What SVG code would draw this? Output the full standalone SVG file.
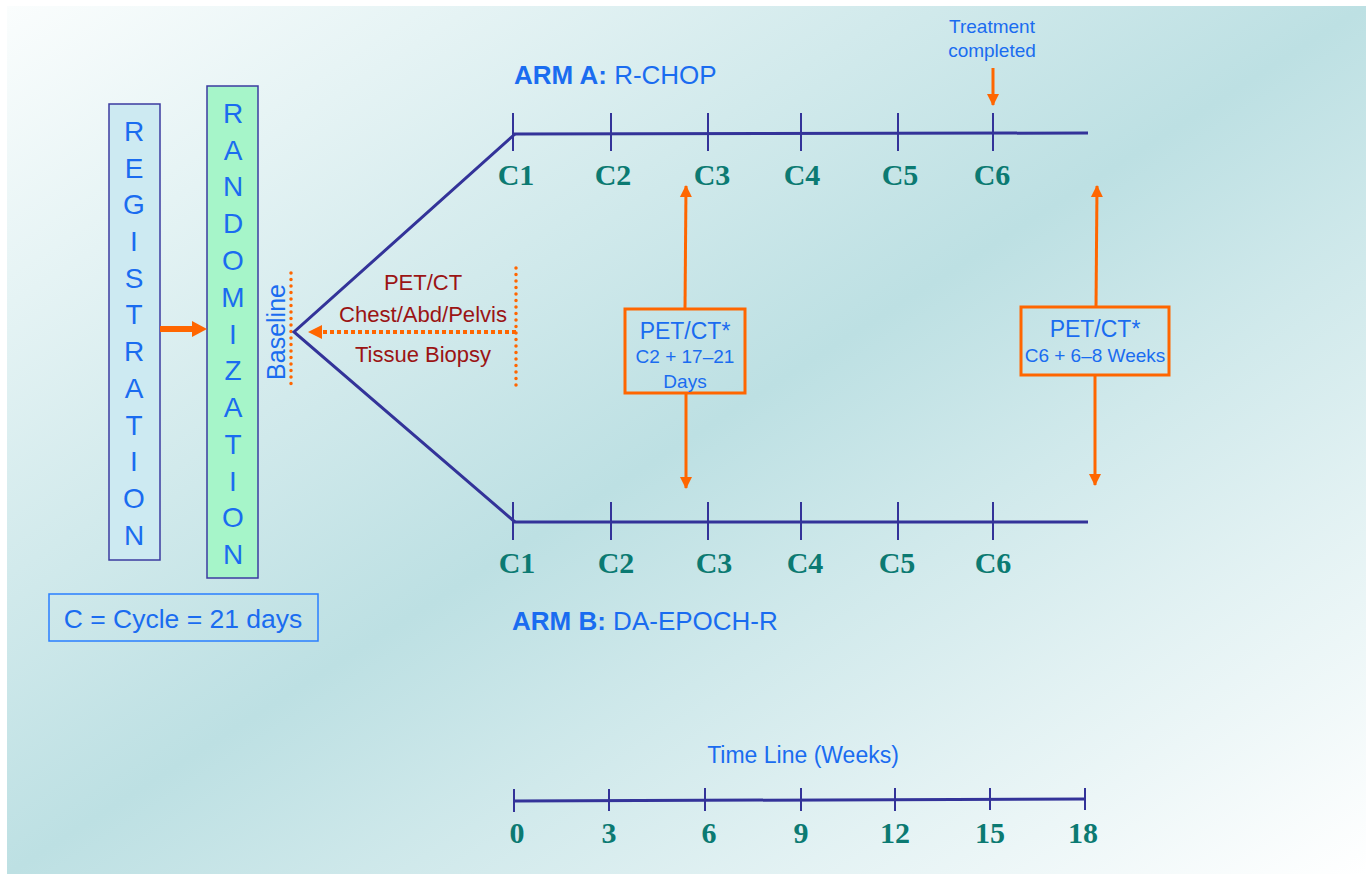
<svg xmlns="http://www.w3.org/2000/svg" width="1366" height="874" viewBox="0 0 1366 874">
<defs>
<linearGradient id="bg" x1="0" y1="0" x2="1" y2="1">
<stop offset="0" stop-color="#fafdfd"/>
<stop offset="0.5" stop-color="#bde0e3"/>
<stop offset="1" stop-color="#ffffff"/>
</linearGradient>
<marker id="oa" viewBox="0 0 12 12" refX="11" refY="6" markerWidth="12" markerHeight="13" markerUnits="userSpaceOnUse" orient="auto">
<path d="M0,0 L12,6 L0,12 Z" fill="#ff6600"/>
</marker>
<style>
.vl{font-family:"Liberation Sans",Arial,sans-serif;font-size:28px;fill:#1a6cf0;text-anchor:middle}
.bl{font-family:"Liberation Sans",Arial,sans-serif;fill:#1a6cf0}
.rd{font-family:"Liberation Sans",Arial,sans-serif;font-size:22px;fill:#9b1414;text-anchor:middle}
.cl{font-family:"Liberation Serif","Times New Roman",serif;font-weight:bold;font-size:30px;fill:#0b7a72;text-anchor:middle}
.ln{stroke:#333399;stroke-width:3;fill:none}
.tk{stroke:#333399;stroke-width:2;fill:none}
.oa{stroke:#ff6600;stroke-width:3;fill:none;marker-end:url(#oa)}
.dot{stroke:#ff6600;stroke-width:3.5;stroke-linecap:round;stroke-dasharray:0 6.5;fill:none}
.ob{fill:none;stroke:#ff6600;stroke-width:3}
</style>
</defs>
<rect x="0" y="0" width="1366" height="874" fill="#ffffff"/>
<rect x="7" y="6" width="1359" height="868" fill="url(#bg)"/>

<g id="registration">
<rect x="109" y="104" width="51" height="456" fill="#cdeaf2" stroke="#3b3ba0" stroke-width="1.5"/>
<text class="vl" x="134" y="141">R</text>
<text class="vl" x="134" y="178">E</text>
<text class="vl" x="134" y="214">G</text>
<text class="vl" x="134" y="251">I</text>
<text class="vl" x="134" y="288">S</text>
<text class="vl" x="134" y="324">T</text>
<text class="vl" x="134" y="361">R</text>
<text class="vl" x="134" y="398">A</text>
<text class="vl" x="134" y="435">T</text>
<text class="vl" x="134" y="471">I</text>
<text class="vl" x="134" y="508">O</text>
<text class="vl" x="134" y="545">N</text>
</g>

<g id="randomization">
<rect x="207" y="86" width="51" height="492" fill="#a6f5c9" stroke="#3b3ba0" stroke-width="1.5"/>
<text class="vl" x="233" y="123">R</text>
<text class="vl" x="233" y="160">A</text>
<text class="vl" x="233" y="196">N</text>
<text class="vl" x="233" y="233">D</text>
<text class="vl" x="233" y="270">O</text>
<text class="vl" x="233" y="307">M</text>
<text class="vl" x="233" y="344">I</text>
<text class="vl" x="233" y="380">Z</text>
<text class="vl" x="233" y="417">A</text>
<text class="vl" x="233" y="454">T</text>
<text class="vl" x="233" y="491">I</text>
<text class="vl" x="233" y="527">O</text>
<text class="vl" x="233" y="564">N</text>
</g>

<g id="cycle-legend">
<rect x="49" y="594" width="269" height="47" fill="none" stroke="#2a7fff" stroke-width="1.5"/>
<text class="bl" x="183" y="628" font-size="26.5" text-anchor="middle">C = Cycle = 21 days</text>
</g>

<g id="baseline">
<text class="bl" font-size="25" text-anchor="middle" transform="translate(285,332) rotate(-90)">Baseline</text>
<line class="dot" x1="291" y1="273" x2="291" y2="386"/>
</g>

<g id="baseline-tests">
<text class="rd" x="423" y="290">PET/CT</text>
<text class="rd" x="423" y="322" textLength="168" lengthAdjust="spacingAndGlyphs">Chest/Abd/Pelvis</text>
<text class="rd" x="423" y="362">Tissue Biopsy</text>
<line class="dot" x1="516" y1="268" x2="516" y2="390"/>
</g>

<g id="arm-a">
<text class="bl" x="514" y="84" font-size="26"><tspan font-weight="bold">ARM A:</tspan> R-CHOP</text>
<text class="cl" x="516" y="185">C1</text>
<text class="cl" x="613" y="185">C2</text>
<text class="cl" x="712" y="185">C3</text>
<text class="cl" x="802" y="185">C4</text>
<text class="cl" x="900" y="185">C5</text>
<text class="cl" x="992" y="185">C6</text>
</g>

<g id="arm-b">
<text class="bl" x="512" y="630" font-size="26"><tspan font-weight="bold">ARM B:</tspan> DA-EPOCH-R</text>
<text class="cl" x="517" y="573">C1</text>
<text class="cl" x="616" y="573">C2</text>
<text class="cl" x="714" y="573">C3</text>
<text class="cl" x="805" y="573">C4</text>
<text class="cl" x="897" y="573">C5</text>
<text class="cl" x="993" y="573">C6</text>
</g>

<g id="treatment-completed">
<text class="bl" x="992" y="33" font-size="19" text-anchor="middle">Treatment</text>
<text class="bl" x="992" y="57" font-size="19" text-anchor="middle">completed</text>
</g>

<g id="petct-interim">
<rect class="ob" x="625" y="309" width="120" height="84"/>
<text class="bl" x="685" y="339" font-size="23" text-anchor="middle">PET/CT*</text>
<text class="bl" x="685" y="363" font-size="19" text-anchor="middle">C2 + 17–21</text>
<text class="bl" x="685" y="388" font-size="19" text-anchor="middle">Days</text>
</g>

<g id="petct-final">
<rect class="ob" x="1021" y="307" width="148" height="68"/>
<text class="bl" x="1095" y="337" font-size="23" text-anchor="middle">PET/CT*</text>
<text class="bl" x="1095" y="362" font-size="19" text-anchor="middle">C6 + 6–8 Weeks</text>
</g>

<g id="timeline">
<text class="bl" x="803" y="763" font-size="23" text-anchor="middle">Time Line (Weeks)</text>
<line class="ln" x1="514" y1="801" x2="1085" y2="799"/>
<path class="tk" d="M514,789V812M609,789V811M705,788V811M801,788V811M895,788V811M990,788V810M1085,788V810"/>
<text class="cl" x="517" y="843">0</text>
<text class="cl" x="609" y="843">3</text>
<text class="cl" x="709" y="843">6</text>
<text class="cl" x="801" y="843">9</text>
<text class="cl" x="895" y="843">12</text>
<text class="cl" x="990" y="843">15</text>
<text class="cl" x="1083" y="843">18</text>
</g>

<g id="connectors">
<path d="M160,326 H192 V321 L207,329 L192,337 V332 H160 Z" fill="#ff6600"/>
<path class="ln" d="M515,134 L294,332 L515,522"/>
<path class="ln" d="M513,134 L1088,133"/>
<path class="ln" d="M513,522 L1088,522"/>
<path class="tk" d="M513,113V151M611,113V151M708,113V151M801,113V151M898,113V151M993,113V151"/>
<path class="tk" d="M513,502V540M611,502V540M708,502V540M801,502V540M898,502V540M993,502V540"/>
<line x1="516" y1="332" x2="320" y2="332" stroke="#ff6600" stroke-width="4" stroke-dasharray="4 3"/>
<path d="M308,332 L322,325 L322,339 Z" fill="#ff6600"/>
<line class="oa" x1="993" y1="68" x2="993" y2="105"/>
<line class="oa" x1="685" y1="309" x2="686" y2="186"/>
<line class="oa" x1="686" y1="393" x2="686" y2="488"/>
<line class="oa" x1="1096" y1="307" x2="1097" y2="186"/>
<line class="oa" x1="1095" y1="375" x2="1095" y2="485"/>
</g>
</svg>
